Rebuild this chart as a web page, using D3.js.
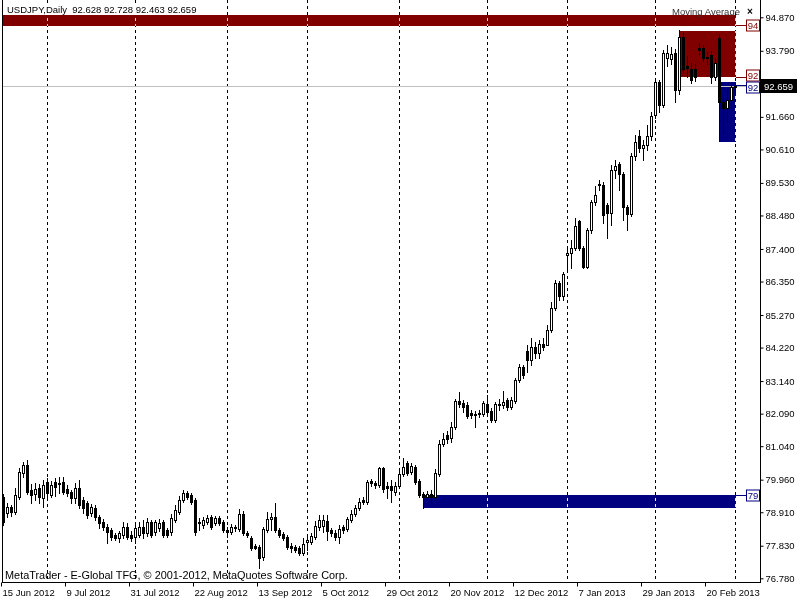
<!DOCTYPE html>
<html><head><meta charset="utf-8">
<script src="https://cdn.jsdelivr.net/npm/d3@7/dist/d3.min.js"></script>
<style>
html,body{margin:0;padding:0;background:#fff;}
svg{display:block;font-family:"Liberation Sans",Arial,sans-serif;}
</style></head>
<body>
<svg id="chart" width="800" height="600"></svg>
<script>
// ---- DATA ----
const openP = [
79.40,78.88,79.08,78.92,79.40,80.17,80.43,79.63,79.50,79.69,
79.37,79.88,79.46,79.88,79.85,79.88,79.66,79.56,79.37,79.69,
79.30,79.21,78.88,79.04,78.75,78.59,78.43,78.33,78.17,78.08,
78.17,78.43,78.17,78.11,78.17,78.43,78.24,78.59,78.27,78.40,
78.59,78.33,78.27,78.66,78.92,79.30,79.53,79.46,79.30,78.59,
78.50,78.59,78.75,78.56,78.72,78.59,78.33,78.27,78.40,78.37,
78.85,78.24,78.08,77.82,77.79,77.46,78.33,78.69,78.75,78.33,
78.20,78.11,77.82,77.79,77.75,77.59,77.95,77.95,78.11,78.43,
78.46,78.63,78.33,78.24,78.11,78.43,78.37,78.66,78.85,79.04,
79.30,79.24,79.92,79.85,79.79,80.33,79.75,79.75,79.56,79.75,
80.14,80.50,80.20,80.37,79.92,79.50,79.40,79.50,79.40,80.14,
81.11,81.40,81.30,81.66,82.50,82.43,82.37,82.11,82.08,82.08,
82.08,82.40,82.17,81.88,82.37,82.37,82.53,82.30,82.50,83.17,
83.59,84.11,83.82,84.24,84.04,84.34,84.30,84.79,85.50,86.30,
85.88,87.21,87.27,87.43,88.30,87.43,86.82,88.01,88.91,89.49,
89.46,88.82,88.56,89.95,90.14,89.82,88.75,88.53,90.40,91.04,
90.66,90.75,91.04,91.72,92.78,92.04,93.55,93.53,93.72,92.53,
94.24,93.30,93.20,93.20,93.88,93.88,93.55,93.65,92.95,94.20,
92.14,91.95,92.20,92.628];
const highP = [
79.50,79.21,79.14,79.69,80.33,80.53,80.59,79.82,79.85,79.82,
79.95,80.01,79.92,80.01,80.04,80.04,79.79,79.63,79.85,79.95,
79.40,79.27,79.17,79.14,78.82,78.69,78.53,78.40,78.24,78.30,
78.59,78.56,78.30,78.56,78.59,78.66,78.72,78.66,78.66,78.69,
78.66,78.40,78.85,79.14,79.43,79.63,79.59,79.53,79.37,78.72,
78.75,78.82,78.82,78.79,78.79,78.66,78.43,78.53,78.50,79.01,
78.95,78.30,78.14,77.88,77.85,78.43,78.92,78.88,79.21,78.40,
78.27,78.17,77.91,77.85,77.82,78.08,78.11,78.24,78.63,78.82,
78.82,78.82,78.40,78.33,78.50,78.50,78.75,78.98,79.14,79.37,
79.40,79.95,79.98,79.92,80.37,80.37,79.88,79.95,79.88,80.27,
80.66,80.56,80.50,80.43,79.98,79.56,79.59,79.63,80.30,81.24,
81.46,81.53,81.82,82.56,82.79,82.53,82.46,82.21,82.17,82.21,
82.50,82.69,82.27,82.46,82.56,82.82,82.59,82.62,83.24,83.69,
83.66,84.30,84.53,84.40,84.46,84.53,84.95,85.69,86.40,86.37,
86.66,87.43,87.69,88.40,88.33,87.50,88.08,88.98,89.43,89.62,
89.56,88.88,90.11,90.27,90.20,89.88,88.82,90.49,91.07,91.24,
90.91,91.40,91.82,92.91,92.85,93.82,93.98,93.91,93.85,94.46,
94.40,93.62,93.40,93.35,94.05,93.98,93.75,93.78,93.55,94.34,
92.30,92.56,92.75,92.728];
const lowP = [
78.50,78.75,78.79,78.85,79.34,80.04,79.50,79.21,79.30,79.21,
79.08,79.30,79.40,79.43,79.53,79.50,79.43,79.21,79.21,79.04,
78.88,78.72,78.79,78.66,78.40,78.33,77.91,78.01,78.01,77.95,
78.08,78.04,77.98,77.91,78.11,78.08,78.14,78.11,78.17,78.30,
78.11,78.11,78.17,78.59,78.85,79.24,79.34,79.17,78.17,78.33,
78.40,78.53,78.37,78.50,78.50,78.27,78.11,78.20,78.30,78.30,
78.17,78.11,77.69,77.72,77.11,77.37,78.27,78.33,78.27,78.11,
78.01,77.72,77.62,77.62,77.53,77.53,77.69,77.88,78.04,78.33,
78.27,78.01,78.14,78.01,77.91,78.24,78.30,78.59,78.79,78.98,
79.17,79.17,79.75,79.69,79.72,79.56,79.37,79.24,79.46,79.69,
80.08,80.11,80.14,79.82,79.40,79.04,79.34,79.21,79.37,80.08,
81.05,81.14,81.17,81.59,82.30,82.14,81.95,81.95,81.66,81.98,
82.01,82.08,81.82,81.82,82.21,82.27,82.21,82.24,82.43,83.11,
83.24,83.43,83.66,83.88,83.88,84.14,84.30,84.72,85.43,85.75,
85.75,86.72,86.79,87.37,87.37,86.79,86.79,87.91,88.82,89.30,
88.24,87.75,88.17,89.69,89.30,88.33,88.01,88.46,90.27,90.53,
90.27,90.59,90.91,91.62,91.82,91.98,93.30,93.36,92.14,92.40,
93.10,92.95,92.75,92.80,93.65,93.45,93.36,92.75,92.85,90.87,
91.10,91.50,91.90,92.463];
const closeP = [
78.59,79.08,78.92,79.46,80.20,80.43,79.56,79.46,79.66,79.40,
79.79,79.53,79.79,79.72,79.82,79.56,79.53,79.37,79.69,79.14,
79.04,78.82,79.08,78.75,78.56,78.43,78.27,78.11,78.08,78.24,
78.43,78.11,78.08,78.40,78.43,78.24,78.59,78.17,78.59,78.56,
78.17,78.17,78.72,78.98,79.30,79.53,79.40,79.24,78.27,78.56,
78.66,78.72,78.43,78.72,78.56,78.33,78.27,78.43,78.43,78.85,
78.24,78.17,77.75,77.75,77.43,78.37,78.69,78.75,78.33,78.17,
78.08,77.79,77.75,77.69,77.59,77.88,78.01,78.14,78.46,78.66,
78.66,78.30,78.24,78.11,78.37,78.33,78.69,78.85,79.04,79.24,
79.24,79.88,79.85,79.79,80.33,79.66,79.69,79.63,79.75,80.14,
80.37,80.17,80.40,79.88,79.46,79.40,79.50,79.40,80.17,81.11,
81.27,81.27,81.66,82.50,82.40,82.30,82.01,82.05,82.05,82.11,
82.43,82.14,81.88,82.40,82.40,82.46,82.30,82.53,83.17,83.59,
83.33,83.82,84.24,84.04,84.34,84.24,84.79,85.50,86.30,85.88,
86.59,87.27,87.43,88.14,87.43,86.82,88.01,88.91,89.14,89.46,
88.49,88.56,89.95,90.07,89.82,88.75,88.53,90.40,90.85,90.66,
90.75,91.04,91.69,92.78,92.04,93.72,93.72,93.68,92.53,94.24,
93.20,93.22,92.85,92.95,93.82,93.55,93.59,92.95,93.40,92.14,
91.95,92.20,92.62,92.659];

const priceTicks = [94.870,93.790,91.660,90.610,89.530,88.480,87.400,86.350,85.270,84.220,83.140,82.090,81.040,79.960,78.910,77.830,76.780];
const dateLabels = ["15 Jun 2012","9 Jul 2012","31 Jul 2012","22 Aug 2012","13 Sep 2012","5 Oct 2012","29 Oct 2012","20 Nov 2012","12 Dec 2012","7 Jan 2013","29 Jan 2013","20 Feb 2013"];
const dateBars = [0,16,32,48,64,80,96,112,128,144,160,176];
const monthStartBars = [11,33,56,76,99,121,141,163,183];

// zones (supply = maroon, demand = navy)
const zoneKind   = ["supply","supply","demand","demand"];
const zoneFrom   = [0,169,179,105];
const zoneTo     = [183,183,183,183];
const zoneTop    = [94.95,94.43,92.78,79.46];
const zoneBottom = [94.59,92.94,90.85,79.06];
const levelKind  = ["supply","supply","demand","demand"];
const levelPrice = [94.62,92.94,92.69,79.46];
const levelText  = ["94","92","92","79"];

const symbol = "USDJPY,Daily";
const lastOHLC = [92.628,92.728,92.463,92.659];
const bidPrice = 92.659;

// ---- STYLE ----
const kindColor = {supply:"#800000", demand:"#000080"};
const svg = d3.select("#chart");
const W = 800, H = 600;
const plotLeft = 2, plotRight = 760, plotBottom = 582;

const x = d3.scaleLinear().domain([0,183]).range([3,735]);
const y = d3.scaleLinear().domain([76.78,94.87]).range([578.3,17.3]);

svg.append("rect").attr("width",W).attr("height",H).attr("fill","#fff");

// zones
const zg = svg.append("g");
zoneKind.forEach((k,i)=>{
  const y0 = Math.round(y(zoneTop[i])), y1 = Math.round(y(zoneBottom[i]));
  const x0 = Math.round(x(zoneFrom[i])) - (zoneFrom[i]===0?1:0), x1 = Math.round(x(zoneTo[i]))+1;
  zg.append("rect").attr("x",x0).attr("y",y0).attr("width",x1-x0).attr("height",y1-y0).attr("fill",kindColor[k]);
});

// period separators
const sg = svg.append("g").style("mix-blend-mode","difference");
monthStartBars.forEach(b=>{
  const px = Math.round(x(b))+0.5;
  sg.append("line").attr("x1",px).attr("x2",px).attr("y1",0).attr("y2",plotBottom)
    .attr("stroke","#fff").attr("stroke-width",1).attr("stroke-dasharray","3,3");
});

// bid line
const by = Math.round(y(bidPrice))+0.5;
svg.append("line").attr("x1",plotLeft).attr("x2",plotRight).attr("y1",by).attr("y2",by).attr("stroke","#c0c0c0");

// candles
const cg = svg.append("g");
closeP.forEach((c,i)=>{
  const o = openP[i], h = highP[i], l = lowP[i];
  const px = Math.round(x(i));
  const yh = Math.round(y(h)), yl = Math.round(y(l));
  const yt = Math.round(y(Math.max(o,c))), yb = Math.round(y(Math.min(o,c)));
  cg.append("line").attr("x1",px+0.5).attr("x2",px+0.5).attr("y1",yh).attr("y2",yl+1).attr("stroke","#000");
  const bull = c >= o;
  if (yb - yt < 1) {
    cg.append("line").attr("x1",px-1).attr("x2",px+2).attr("y1",yt+0.5).attr("y2",yt+0.5).attr("stroke","#000");
  } else {
    cg.append("rect").attr("x",px-0.5).attr("y",yt+0.5).attr("width",2).attr("height",yb-yt)
      .attr("fill",bull?"#fff":"#000").attr("stroke","#000").attr("stroke-width",1);
  }
});

// level labels (nudged apart when they would collide)
const lg = svg.append("g");
const lv = levelKind.map((k,i)=>({k, i, ly: Math.round(y(levelPrice[i]))+0.5})).sort((a,b)=>a.ly-b.ly);
lv.forEach(d=>d.by=d.ly);
for (let j=1;j<lv.length;j++){
  const gap = lv[j].by - lv[j-1].by;
  if (gap < 12) { const s=(12-gap)/2; lv[j-1].by -= s; lv[j].by += s; }
}
lv.forEach(d=>{
  const col = kindColor[d.k];
  lg.append("line").attr("x1",Math.round(x(183))+1).attr("x2",746).attr("y1",d.ly).attr("y2",d.ly).attr("stroke",col);
  lg.append("rect").attr("x",746.5).attr("y",d.by-5.5).attr("width",13).attr("height",11).attr("fill","#fff").attr("stroke",col);
  lg.append("text").attr("x",753).attr("y",d.by+3.5).attr("text-anchor","middle").attr("font-size","9.5px").attr("fill",col).text(levelText[d.i]);
});

// frame lines
svg.append("line").attr("x1",2.5).attr("x2",2.5).attr("y1",0).attr("y2",plotBottom).attr("stroke","#000");
svg.append("line").attr("x1",plotRight+0.5).attr("x2",plotRight+0.5).attr("y1",0).attr("y2",plotBottom+1).attr("stroke","#000");
svg.append("line").attr("x1",plotLeft).attr("x2",plotRight+1).attr("y1",plotBottom+0.5).attr("y2",plotBottom+0.5).attr("stroke","#000");

// right price axis
const ya = svg.append("g").attr("transform",`translate(${plotRight+0.5},0)`)
  .call(d3.axisRight(y).tickValues(priceTicks).tickFormat(d3.format(".3f")).tickSize(3).tickPadding(2));
ya.select(".domain").remove();
ya.selectAll("text").attr("font-size","9.5px").attr("font-family","Liberation Sans, Arial, sans-serif").attr("fill","#000");
ya.selectAll("line").attr("stroke","#000");

// bottom date axis
const xa = svg.append("g").attr("transform",`translate(0,${plotBottom+0.5})`)
  .call(d3.axisBottom(x).tickValues(dateBars).tickFormat((d,i)=>dateLabels[i]).tickSize(4).tickPadding(3));
xa.select(".domain").remove();
xa.selectAll(".tick").attr("transform",d=>`translate(${Math.round(x(d))-1.5},0)`);
xa.selectAll("text").attr("text-anchor","start").attr("x",1).attr("font-size","9.5px")
  .attr("font-family","Liberation Sans, Arial, sans-serif").attr("fill","#000");
xa.selectAll("line").attr("stroke","#000");

// current price box
svg.append("rect").attr("x",761).attr("y",by-7.5).attr("width",36).attr("height",14).attr("fill","#000");
svg.append("text").attr("x",764).attr("y",by+3.5).attr("font-size","9.5px").attr("fill","#fff").text(d3.format(".3f")(bidPrice));

// title
const title = `${symbol}  ${lastOHLC.map(d3.format(".3f")).join(" ")}`;
svg.append("rect").attr("x",4).attr("y",3).attr("width",192).attr("height",12).attr("fill","#fff");
svg.append("text").attr("x",7).attr("y",13).attr("font-size","9.5px").attr("fill","#000").attr("xml:space","preserve").style("white-space","pre").text(title);

// indicator label
svg.append("text").attr("x",672).attr("y",15).attr("font-size","9.5px").attr("fill","#333").text("Moving Average");
svg.append("text").attr("x",747).attr("y",15).attr("font-size","10px").attr("font-weight","bold").attr("fill","#000").text("×");

// copyright
svg.append("text").attr("x",5).attr("y",579).attr("font-size","10.9px").attr("fill","#000")
  .text("MetaTrader - E-Global TFG, © 2001-2012, MetaQuotes Software Corp.");
</script>
</body></html>
